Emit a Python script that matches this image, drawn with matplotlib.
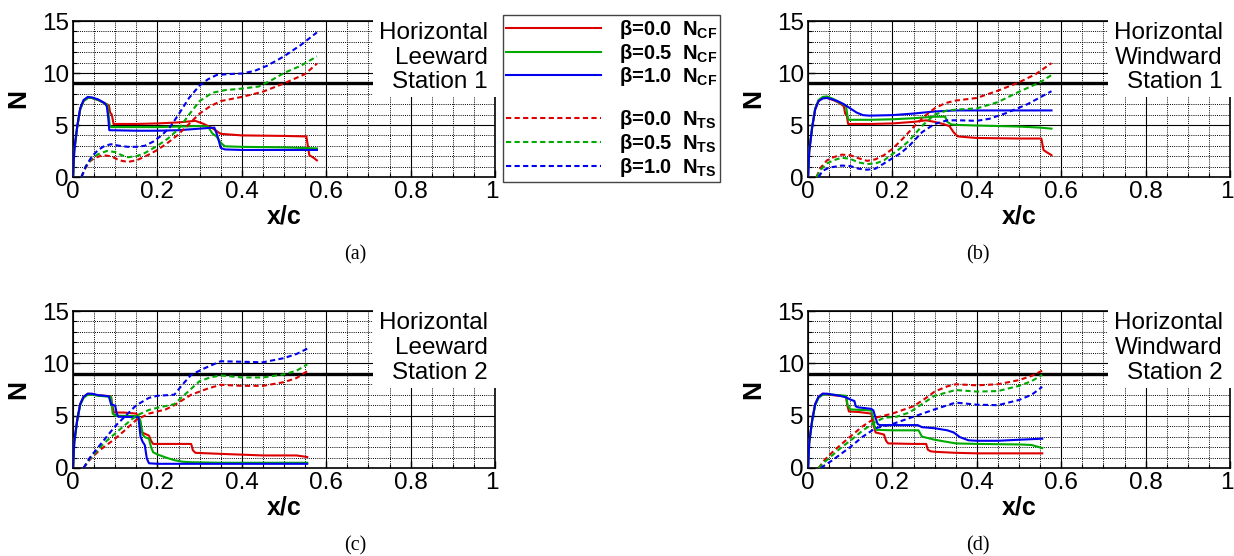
import matplotlib
matplotlib.use("Agg")
import matplotlib.pyplot as plt
from matplotlib.lines import Line2D
from matplotlib.patches import Rectangle
from matplotlib.ticker import MultipleLocator
from matplotlib.transforms import ScaledTranslation

plt.rcParams['font.family'] = ['Liberation Sans', 'DejaVu Sans']
plt.rcParams['mathtext.fontset'] = 'custom'
plt.rcParams['mathtext.rm'] = 'Liberation Sans'
plt.rcParams['mathtext.bf'] = 'Liberation Sans:bold'

# ---------------- data ----------------
# Panel (a): Horizontal Leeward Station 1
a_cf0_x = [0.0, 0.003, 0.01, 0.017, 0.025, 0.035, 0.045, 0.06, 0.075, 0.085, 0.088, 0.092, 0.096, 0.15, 0.2, 0.25, 0.29, 0.31, 0.33, 0.35, 0.4, 0.5, 0.553, 0.56, 0.57, 0.578]
a_cf0_y = [0.0, 2.5, 4.8, 6.5, 7.3, 7.6, 7.6, 7.4, 7.1, 6.9, 6.2, 6.0, 5.1, 5.1, 5.15, 5.25, 5.4, 5.1, 4.7, 4.15, 4.0, 3.95, 3.9, 2.1, 1.85, 1.6]
a_cf5_x = [0.0, 0.003, 0.01, 0.017, 0.025, 0.035, 0.045, 0.06, 0.075, 0.082, 0.087, 0.09, 0.15, 0.2, 0.25, 0.3, 0.32, 0.33, 0.34, 0.35, 0.36, 0.4, 0.5, 0.578]
a_cf5_y = [0.0, 2.5, 4.8, 6.5, 7.3, 7.6, 7.6, 7.4, 7.1, 6.9, 5.0, 4.8, 4.8, 4.8, 4.85, 4.9, 4.85, 4.2, 3.9, 3.3, 2.95, 2.9, 2.85, 2.75]
a_cf10_x = [0.0, 0.003, 0.01, 0.017, 0.025, 0.035, 0.045, 0.06, 0.075, 0.08, 0.083, 0.086, 0.15, 0.2, 0.25, 0.3, 0.335, 0.342, 0.35, 0.36, 0.4, 0.5, 0.578]
a_cf10_y = [0.0, 2.6, 4.9, 6.6, 7.4, 7.7, 7.65, 7.45, 7.1, 6.8, 5.9, 4.5, 4.45, 4.45, 4.5, 4.65, 4.75, 4.0, 2.8, 2.65, 2.6, 2.6, 2.6]
a_ts0_x = [0.02, 0.03, 0.04, 0.05, 0.07, 0.09, 0.11, 0.13, 0.15, 0.17, 0.2, 0.225, 0.25, 0.275, 0.3, 0.325, 0.35, 0.4, 0.45, 0.5, 0.55, 0.578]
a_ts0_y = [0.0, 0.9, 1.5, 1.8, 2.1, 2.0, 1.6, 1.45, 1.6, 1.95, 2.6, 3.3, 4.1, 5.1, 6.1, 6.8, 7.3, 7.7, 8.2, 9.0, 9.9, 10.9]
a_ts5_x = [0.02, 0.03, 0.045, 0.06, 0.08, 0.1, 0.115, 0.13, 0.15, 0.17, 0.2, 0.225, 0.25, 0.275, 0.3, 0.33, 0.36, 0.4, 0.44, 0.47, 0.5, 0.54, 0.578]
a_ts5_y = [0.0, 1.0, 1.8, 2.2, 2.5, 2.4, 2.1, 1.9, 2.0, 2.3, 3.0, 3.7, 4.6, 6.0, 7.3, 8.1, 8.35, 8.5, 8.7, 9.3, 10.0, 10.7, 11.6]
a_ts10_x = [0.02, 0.03, 0.045, 0.06, 0.075, 0.09, 0.11, 0.13, 0.15, 0.17, 0.19, 0.21, 0.23, 0.25, 0.275, 0.3, 0.32, 0.34, 0.37, 0.4, 0.43, 0.46, 0.5, 0.54, 0.578]
a_ts10_y = [0.0, 1.0, 2.0, 2.6, 3.0, 3.15, 3.0, 2.9, 2.9, 3.0, 3.4, 4.0, 4.8, 6.0, 7.6, 8.8, 9.4, 9.8, 9.9, 9.95, 10.2, 10.7, 11.6, 12.7, 13.9]

# Panel (b): Horizontal Windward Station 1
b_cf0_x = [0.0, 0.003, 0.01, 0.017, 0.025, 0.035, 0.045, 0.06, 0.075, 0.085, 0.088, 0.092, 0.095, 0.15, 0.2, 0.25, 0.28, 0.3, 0.32, 0.335, 0.345, 0.355, 0.4, 0.5, 0.553, 0.558, 0.565, 0.577]
b_cf0_y = [0.0, 2.5, 4.8, 6.5, 7.3, 7.6, 7.6, 7.4, 7.1, 6.8, 6.1, 5.9, 5.1, 5.1, 5.15, 5.3, 5.45, 5.3, 5.1, 4.9, 4.3, 3.9, 3.75, 3.7, 3.7, 2.6, 2.4, 2.1]
b_cf5_x = [0.0, 0.003, 0.01, 0.017, 0.025, 0.035, 0.045, 0.06, 0.075, 0.09, 0.093, 0.096, 0.15, 0.2, 0.25, 0.3, 0.325, 0.33, 0.34, 0.36, 0.4, 0.5, 0.55, 0.577]
b_cf5_y = [0.0, 2.6, 4.9, 6.6, 7.4, 7.7, 7.75, 7.5, 7.15, 6.85, 6.0, 5.5, 5.5, 5.55, 5.65, 5.8, 5.8, 5.3, 5.05, 5.0, 4.95, 4.85, 4.75, 4.65]
b_cf10_x = [0.0, 0.003, 0.01, 0.017, 0.025, 0.035, 0.045, 0.055, 0.07, 0.085, 0.1, 0.115, 0.13, 0.145, 0.2, 0.25, 0.3, 0.35, 0.4, 0.5, 0.577]
b_cf10_y = [0.0, 2.5, 4.8, 6.5, 7.3, 7.55, 7.6, 7.5, 7.3, 7.0, 6.6, 6.2, 5.95, 5.9, 5.95, 6.1, 6.3, 6.4, 6.4, 6.4, 6.4]
b_ts0_x = [0.02, 0.03, 0.045, 0.06, 0.08, 0.1, 0.12, 0.14, 0.16, 0.18, 0.2, 0.225, 0.25, 0.275, 0.3, 0.325, 0.35, 0.4, 0.45, 0.5, 0.54, 0.577]
b_ts0_y = [0.0, 0.9, 1.6, 1.9, 2.15, 2.1, 1.8, 1.55, 1.7, 2.1, 2.7, 3.7, 4.8, 5.8, 6.6, 7.1, 7.35, 7.6, 8.3, 9.1, 9.9, 10.95]
b_ts5_x = [0.02, 0.03, 0.045, 0.06, 0.08, 0.1, 0.12, 0.14, 0.16, 0.18, 0.2, 0.22, 0.24, 0.27, 0.3, 0.33, 0.36, 0.4, 0.45, 0.5, 0.55, 0.577]
b_ts5_y = [0.0, 0.7, 1.3, 1.6, 1.85, 1.75, 1.4, 1.25, 1.3, 1.6, 2.2, 2.8, 3.5, 4.9, 6.0, 6.4, 6.5, 6.6, 7.2, 8.2, 9.1, 9.8]
b_ts10_x = [0.025, 0.035, 0.05, 0.065, 0.08, 0.1, 0.12, 0.14, 0.16, 0.18, 0.2, 0.22, 0.24, 0.27, 0.3, 0.33, 0.36, 0.4, 0.43, 0.47, 0.52, 0.577]
b_ts10_y = [0.0, 0.6, 0.9, 1.0, 1.1, 1.05, 0.8, 0.7, 0.8, 1.3, 1.8, 2.3, 3.0, 4.3, 5.1, 5.45, 5.45, 5.4, 5.6, 6.15, 7.0, 8.25]

# Panel (c): Horizontal Leeward Station 2
c_cf0_x = [0.0, 0.003, 0.01, 0.017, 0.025, 0.035, 0.045, 0.06, 0.075, 0.09, 0.093, 0.097, 0.12, 0.15, 0.158, 0.162, 0.166, 0.18, 0.185, 0.19, 0.25, 0.28, 0.284, 0.29, 0.35, 0.45, 0.53, 0.555]
c_cf0_y = [0.0, 2.5, 4.6, 6.1, 6.8, 7.1, 7.05, 6.95, 6.9, 6.85, 6.0, 5.3, 5.3, 5.2, 4.6, 3.5, 3.35, 3.1, 2.6, 2.3, 2.3, 2.3, 1.7, 1.45, 1.35, 1.2, 1.2, 1.05]
c_cf5_x = [0.0, 0.003, 0.01, 0.017, 0.025, 0.035, 0.045, 0.06, 0.075, 0.09, 0.094, 0.1, 0.155, 0.16, 0.165, 0.17, 0.18, 0.185, 0.19, 0.2, 0.22, 0.24, 0.26, 0.28, 0.35, 0.555]
c_cf5_y = [0.0, 2.4, 4.5, 6.0, 6.7, 7.0, 7.0, 6.9, 6.85, 6.8, 5.2, 5.0, 4.95, 4.5, 3.2, 2.95, 2.8, 2.0, 1.5, 1.3, 1.0, 0.75, 0.6, 0.55, 0.5, 0.5]
c_cf10_x = [0.0, 0.003, 0.01, 0.017, 0.025, 0.035, 0.045, 0.06, 0.075, 0.085, 0.09, 0.1, 0.103, 0.107, 0.155, 0.16, 0.165, 0.17, 0.175, 0.18, 0.2, 0.3, 0.555]
c_cf10_y = [0.0, 2.5, 4.6, 6.1, 6.8, 7.1, 7.1, 6.95, 6.9, 6.85, 6.1, 5.95, 5.3, 4.9, 4.85, 3.0, 2.5, 2.2, 0.9, 0.45, 0.4, 0.4, 0.4]
c_ts0_x = [0.025, 0.04, 0.06, 0.08, 0.1, 0.12, 0.15, 0.18, 0.2, 0.22, 0.24, 0.26, 0.28, 0.3, 0.32, 0.35, 0.4, 0.45, 0.5, 0.53, 0.555]
c_ts0_y = [0.0, 0.8, 1.6, 2.2, 2.8, 3.5, 4.6, 5.2, 5.4, 5.6, 6.0, 6.5, 7.0, 7.3, 7.6, 7.95, 7.85, 7.85, 8.2, 8.6, 9.25]
c_ts5_x = [0.025, 0.04, 0.06, 0.08, 0.1, 0.12, 0.15, 0.18, 0.2, 0.24, 0.27, 0.3, 0.325, 0.35, 0.4, 0.45, 0.5, 0.53, 0.555]
c_ts5_y = [0.0, 0.9, 1.8, 2.6, 3.3, 4.0, 5.0, 5.55, 5.75, 6.1, 7.2, 8.3, 8.65, 8.85, 8.65, 8.65, 8.95, 9.3, 9.9]
c_ts10_x = [0.025, 0.04, 0.06, 0.08, 0.1, 0.13, 0.15, 0.18, 0.2, 0.24, 0.26, 0.28, 0.31, 0.35, 0.4, 0.45, 0.5, 0.53, 0.555]
c_ts10_y = [0.0, 1.0, 2.0, 3.0, 4.0, 5.2, 6.0, 6.7, 6.9, 7.0, 8.0, 8.9, 9.5, 10.2, 10.15, 10.1, 10.5, 10.9, 11.4]

# Panel (d): Horizontal Windward Station 2
d_cf0_x = [0.0, 0.003, 0.01, 0.017, 0.025, 0.035, 0.045, 0.06, 0.075, 0.09, 0.093, 0.097, 0.12, 0.15, 0.155, 0.16, 0.165, 0.18, 0.185, 0.19, 0.25, 0.28, 0.284, 0.29, 0.3, 0.35, 0.4, 0.555]
d_cf0_y = [0.0, 2.5, 4.6, 6.1, 6.8, 7.1, 7.05, 6.95, 6.9, 6.85, 6.0, 5.4, 5.35, 5.2, 4.2, 3.4, 3.35, 3.2, 2.6, 2.35, 2.3, 2.3, 1.75, 1.6, 1.55, 1.45, 1.4, 1.4]
d_cf5_x = [0.0, 0.003, 0.01, 0.017, 0.025, 0.035, 0.045, 0.06, 0.075, 0.09, 0.094, 0.1, 0.15, 0.155, 0.158, 0.162, 0.2, 0.262, 0.27, 0.3, 0.35, 0.4, 0.5, 0.53, 0.555]
d_cf5_y = [0.0, 2.4, 4.5, 6.0, 6.7, 7.0, 7.05, 7.0, 6.95, 6.9, 6.0, 5.6, 5.5, 4.6, 3.9, 3.65, 3.6, 3.6, 3.0, 2.7, 2.35, 2.3, 2.25, 2.2, 1.9]
d_cf10_x = [0.0, 0.003, 0.01, 0.017, 0.025, 0.035, 0.045, 0.06, 0.075, 0.09, 0.1, 0.11, 0.113, 0.118, 0.15, 0.155, 0.16, 0.165, 0.17, 0.2, 0.26, 0.27, 0.3, 0.33, 0.345, 0.36, 0.38, 0.4, 0.45, 0.5, 0.555]
d_cf10_y = [0.0, 2.5, 4.6, 6.1, 6.8, 7.1, 7.1, 7.0, 6.9, 6.75, 6.55, 6.4, 5.9, 5.8, 5.65, 5.5, 4.8, 4.2, 4.1, 4.1, 4.1, 3.9, 3.8, 3.6, 3.4, 2.95, 2.65, 2.6, 2.6, 2.7, 2.8]
d_ts0_x = [0.025, 0.04, 0.06, 0.08, 0.1, 0.13, 0.16, 0.2, 0.25, 0.28, 0.3, 0.33, 0.35, 0.4, 0.45, 0.5, 0.53, 0.555]
d_ts0_y = [0.0, 0.8, 1.6, 2.3, 3.0, 4.0, 4.8, 5.2, 5.9, 6.7, 7.3, 7.8, 8.0, 7.9, 8.0, 8.4, 8.8, 9.3]
d_ts5_x = [0.025, 0.04, 0.06, 0.08, 0.1, 0.13, 0.16, 0.18, 0.21, 0.24, 0.27, 0.3, 0.35, 0.4, 0.45, 0.5, 0.53, 0.555]
d_ts5_y = [0.0, 0.6, 1.3, 2.0, 2.6, 3.6, 4.4, 4.8, 4.9, 5.3, 6.1, 6.9, 7.45, 7.3, 7.35, 7.85, 8.3, 8.9]
d_ts10_x = [0.03, 0.045, 0.06, 0.08, 0.1, 0.13, 0.16, 0.2, 0.25, 0.3, 0.35, 0.4, 0.45, 0.5, 0.53, 0.555]
d_ts10_y = [0.0, 0.4, 0.8, 1.4, 2.0, 3.0, 3.8, 4.2, 4.9, 5.6, 6.25, 6.05, 6.0, 6.5, 7.0, 7.75]

panel_tags = ["(a)", "(b)", "(c)", "(d)"]
panel_boxes = ["Horizontal\nLeeward\nStation 1", "Horizontal\nWindward\nStation 1",
               "Horizontal\nLeeward\nStation 2", "Horizontal\nWindward\nStation 2"]
legend_labels = ["β=0.0  N$_\\mathbf{CF}$", "β=0.5  N$_\\mathbf{CF}$", "β=1.0  N$_\\mathbf{CF}$",
                 "β=0.0  N$_\\mathbf{TS}$", "β=0.5  N$_\\mathbf{TS}$", "β=1.0  N$_\\mathbf{TS}$"]
x_ticks = [0, 0.2, 0.4, 0.6, 0.8, 1.0]
x_ticklabels = ["0", "0.2", "0.4", "0.6", "0.8", "1"]
y_ticks = [0, 5, 10, 15]
threshold_N = 9

panels = [
    [(a_cf0_x, a_cf0_y), (a_cf5_x, a_cf5_y), (a_cf10_x, a_cf10_y),
     (a_ts0_x, a_ts0_y), (a_ts5_x, a_ts5_y), (a_ts10_x, a_ts10_y)],
    [(b_cf0_x, b_cf0_y), (b_cf5_x, b_cf5_y), (b_cf10_x, b_cf10_y),
     (b_ts0_x, b_ts0_y), (b_ts5_x, b_ts5_y), (b_ts10_x, b_ts10_y)],
    [(c_cf0_x, c_cf0_y), (c_cf5_x, c_cf5_y), (c_cf10_x, c_cf10_y),
     (c_ts0_x, c_ts0_y), (c_ts5_x, c_ts5_y), (c_ts10_x, c_ts10_y)],
    [(d_cf0_x, d_cf0_y), (d_cf5_x, d_cf5_y), (d_cf10_x, d_cf10_y),
     (d_ts0_x, d_ts0_y), (d_ts5_x, d_ts5_y), (d_ts10_x, d_ts10_y)],
]

colors = ['#dd0000', '#00aa00', '#0000ee']
dash = (0, (2.5, 1.6))

W, H = 1234, 556
fig = plt.figure(figsize=(W / 100, H / 100), dpi=100)

# axes pixel boxes (left, top, right, bottom)
ax_px = [(73, 21, 495, 177), (808, 21, 1230, 177),
         (73, 311, 495, 468), (808, 311, 1230, 468)]
tag_px = [(355, 255), (978, 255), (355, 546), (978, 546)]

for i, (series, (l, t, r, b)) in enumerate(zip(panels, ax_px)):
    ax = fig.add_axes([l / W, 1 - b / H, (r - l) / W, (b - t) / H])
    ax.set_xlim(0, 1)
    ax.set_ylim(0, 15)
    ax.set_axisbelow(True)
    ax.xaxis.set_minor_locator(MultipleLocator(0.05))
    ax.yaxis.set_minor_locator(MultipleLocator(1))
    ax.set_xticks(x_ticks)
    ax.set_xticklabels(x_ticklabels)
    ax.set_yticks(y_ticks)
    ax.grid(which='major', color='black', lw=0.8, ls='-')
    ax.grid(which='minor', color='black', lw=0.7, ls=(0, (1, 1.2)))
    ax.tick_params(which='both', direction='in', labelsize=17.5, pad=3,
                   top=False, right=False)
    ax.tick_params(which='major', length=5, width=1)
    ax.tick_params(which='minor', length=3, width=0.8)
    for s in ax.spines.values():
        s.set_linewidth(1.2)
        s.set_color('black')
    ax.axhline(threshold_N, color='black', lw=2.4, zorder=0.9)
    for k, (xs, ys) in enumerate(series):
        ls = '-' if k < 3 else dash
        ax.plot(xs, ys, color=colors[k % 3], lw=1.5, ls=ls, zorder=3)
    ax.add_patch(Rectangle((0.71, 7.65 / 15), 0.31, 0.52, transform=ax.transAxes,
                           facecolor='white', edgecolor='none', zorder=2.7,
                           clip_on=False))
    lines = panel_boxes[i].split('\n')
    for txt, yy in zip(lines, [13.85, 11.45, 9.1]):
        ax.text(0.983, yy, txt, ha='right', va='center', fontsize=17.5, zorder=4)
    ax.set_xlabel('x/c', fontsize=18, fontweight='bold', labelpad=1)
    ax.set_ylabel('N', fontsize=19, fontweight='bold', labelpad=8)
    # nudge the last x tick label ("1") slightly left so it stays inside the figure
    last = ax.xaxis.get_major_ticks()[-1].label1
    last.set_transform(last.get_transform() + ScaledTranslation(-0.03, 0, fig.dpi_scale_trans))
    tx, ty = tag_px[i]
    fig.text(tx / W, 1 - ty / H, panel_tags[i], ha='center', va='center',
             fontsize=14.5, family='Liberation Serif')

# legend
handles = [Line2D([], [], color=colors[k], lw=1.5, ls='-') for k in range(3)]
handles += [Line2D([], [], color='none')]
handles += [Line2D([], [], color=colors[k], lw=1.5, ls=dash) for k in range(3)]
labels = legend_labels[:3] + [' '] + legend_labels[3:]
leg = fig.legend(handles, labels, loc='upper left',
                 bbox_to_anchor=(503 / W, 1 - 15 / H), bbox_transform=fig.transFigure,
                 prop={'weight': 'bold', 'size': 14.5}, frameon=True, fancybox=False,
                 edgecolor='#444444', framealpha=1, handlelength=4.7,
                 handletextpad=0.9, borderpad=0.15, labelspacing=0.03,
                 borderaxespad=0)
leg.get_frame().set_linewidth(1.0)

fig.savefig('out.png', dpi=100)
